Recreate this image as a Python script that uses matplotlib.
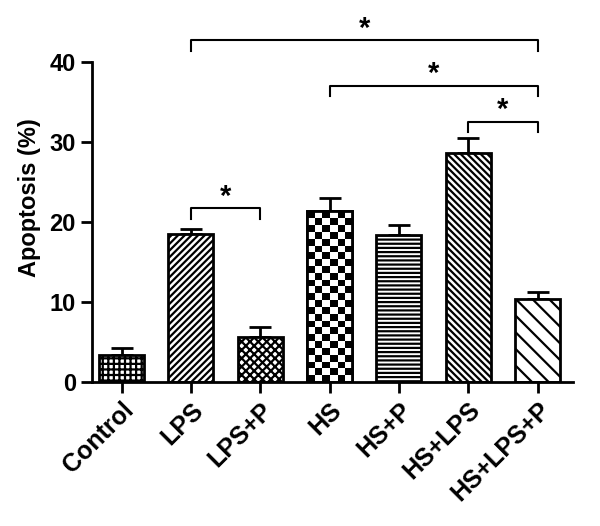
# Apoptosis bar chart with significance brackets

import numpy as np
import matplotlib
matplotlib.use("Agg")
import matplotlib.pyplot as plt

plt.rcParams['font.family'] = ['Liberation Sans', 'DejaVu Sans']
plt.rcParams['font.weight'] = 'bold'
plt.rcParams['hatch.linewidth'] = 1.6

# Data
groups = ['Control', 'LPS', 'LPS+P', 'HS', 'HS+P', 'HS+LPS', 'HS+LPS+P']
apoptosis = [3.4, 18.5, 5.6, 21.3, 18.4, 28.6, 10.4]
sem = [0.8, 0.6, 1.2, 1.7, 1.2, 1.9, 0.8]
hatches = ['+++', '/////', 'xxxx', '', '----', '\\\\\\\\\\', '\\\\']
# significance brackets: (from, to, height)
brackets = [(1, 6, 42.7), (3, 6, 37.0), (5, 6, 32.5), (1, 2, 21.7)]

fig = plt.figure(figsize=(6, 5.26), dpi=100)
ax = fig.add_axes([0.153, 0.274, 0.802, 0.6996])

x = np.arange(len(groups))
bars = ax.bar(x, apoptosis, width=0.65, color='white', edgecolor='black',
              linewidth=2, zorder=2)
for b, h in zip(bars, hatches):
    b.set_hatch(h)
ax.errorbar(x, apoptosis, yerr=[np.zeros(len(sem)), sem], fmt='none',
            ecolor='black', elinewidth=2, capsize=8, capthick=2, zorder=1)

# checkerboard fill for the HS bar
hs = bars[3]
checker = (np.indices((26, 6)).sum(axis=0) % 2)
im = ax.imshow(checker, cmap='gray', interpolation='nearest', aspect='auto',
               extent=[hs.get_x(), hs.get_x() + hs.get_width(), 0, 26 * 0.85],
               origin='lower', zorder=2)
im.set_clip_path(hs)
ax.bar(x[3], apoptosis[3], width=0.65, color='none', edgecolor='black',
       linewidth=2, zorder=3)

# brackets
for a, b, y in brackets:
    ax.plot([a, a, b, b], [y - 1.3, y, y, y - 1.3], color='black', lw=1.5,
            clip_on=False)
    ax.text((a + b) / 2, y - 0.3, '*', ha='center', va='bottom', fontsize=21,
            fontweight='bold')

ax.set_xlim(-0.43, 6.51)
ax.set_ylim(0, 46)
ax.set_yticks([0, 10, 20, 30, 40])
ax.spines['left'].set_bounds(0, 40)
ax.spines['top'].set_visible(False)
ax.spines['right'].set_visible(False)
ax.spines['left'].set_linewidth(2)
ax.spines['bottom'].set_linewidth(2)
ax.tick_params(axis='both', width=2, length=8, labelsize=17)
ax.set_xticks(x)
ax.set_xticklabels(groups, rotation=45, ha='right', rotation_mode='anchor',
                   fontsize=18, fontweight='bold')
ax.set_ylabel('Apoptosis (%)', fontsize=17, fontweight='bold', labelpad=6)

plt.savefig('out.png', dpi=100)
